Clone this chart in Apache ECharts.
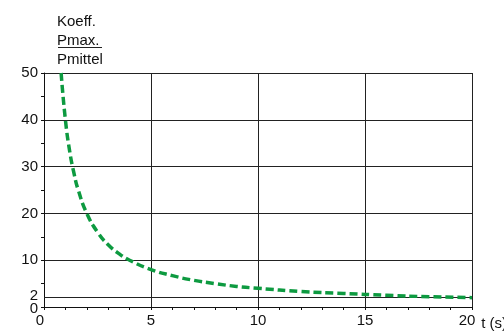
<!DOCTYPE html>
<html>
<head>
<meta charset="utf-8">
<script src="https://cdn.jsdelivr.net/npm/echarts@6/dist/echarts.min.js"></script>
<style>html,body{margin:0;padding:0;background:#fff}#c{width:504px;height:332px}</style>
</head>
<body>
<div id="c"></div>
<script>
var tValues = [0.8, 1, 1.2, 1.4, 1.6, 2, 2.5, 3, 3.5, 4, 5, 6, 7, 8, 9, 10, 12, 14, 16, 18, 20];
var koeffValues = [50, 40, 33.3, 28.6, 25, 20, 16, 13.3, 11.4, 10, 8, 6.7, 5.7, 5, 4.4, 4, 3.3, 2.9, 2.5, 2.2, 2];
var yLabelValues = [0, 10, 20, 30, 40, 50];
var yExtraLabelValues = [2];
var titleLines = ['Koeff.', 'Pmax.', 'Pmittel'];
var xName = 't (s)';

var font = 'Liberation Sans, Arial, sans-serif';
var chart = echarts.init(document.getElementById('c'), null, {renderer: 'canvas'});
var data = tValues.map(function (t, i) { return [t, koeffValues[i]]; });
chart.setOption({
  animation: false,
  backgroundColor: '#fff',
  title: {
    text: titleLines.join('\n'),
    left: 57, top: 12, padding: 0,
    textStyle: {fontFamily: font, fontSize: 15, fontWeight: 'normal', color: '#111', lineHeight: 19.2}
  },
  graphic: [{
    type: 'line', shape: {x1: 58, y1: 47.5, x2: 102, y2: 47.5},
    style: {stroke: '#222', lineWidth: 1}
  }],
  grid: {left: 44, right: 32, top: 73, bottom: 25, containLabel: false, outerBoundsMode: 'none'},
  xAxis: {
    type: 'value', min: 0, max: 20, interval: 5,
    name: xName, nameLocation: 'end', nameGap: -1,
    nameTextStyle: {fontFamily: font, fontSize: 15, color: '#111', verticalAlign: 'top', align: 'left', padding: [9, 0, 0, 0]},
    axisLine: {show: true, lineStyle: {color: '#111', width: 1}},
    axisTick: {show: true, length: 3, lineStyle: {color: '#111'}},
    minorTick: {show: true, splitNumber: 5, length: 3, lineStyle: {color: '#111'}},
    axisLabel: {
      fontFamily: font, fontSize: 15, color: '#111', margin: 6,
      showMinLabel: true, showMaxLabel: true, hideOverlap: false,
      formatter: function (v) {
        if (v === 0) return '{f|0}';
        if (v === 20) return '{l|20}';
        return String(v);
      },
      rich: {
        f: {fontFamily: font, fontSize: 15, color: '#111', padding: [0, 8, 0, 0]},
        l: {fontFamily: font, fontSize: 15, color: '#111', padding: [0, 10, 0, 0]}
      }
    },
    splitLine: {show: true, lineStyle: {color: '#222', width: 1}}
  },
  yAxis: [{
    type: 'value', min: 0, max: 50, interval: 10,
    axisLine: {show: true, lineStyle: {color: '#111', width: 1}},
    axisTick: {show: true, length: 3, lineStyle: {color: '#111'}},
    minorTick: {show: true, splitNumber: 2, length: 3, lineStyle: {color: '#111'}},
    axisLabel: {
      fontFamily: font, fontSize: 15, color: '#111', margin: 6,
      showMinLabel: true, showMaxLabel: true, hideOverlap: false,
      customValues: yLabelValues,
      formatter: function (v) { return v === 0 ? '{z|0}' : String(v); },
      rich: {z: {fontFamily: font, fontSize: 15, color: '#111', padding: [3, 0, 0, 0]}}
    },
    splitLine: {show: true, lineStyle: {color: '#222', width: 1}}
  }, {
    type: 'value', min: 0, max: 50, interval: 10, position: 'left', offset: 0,
    axisLine: {show: false}, axisTick: {show: false}, splitLine: {show: false},
    axisLabel: {
      fontFamily: font, fontSize: 15, color: '#111', margin: 6,
      showMinLabel: true, showMaxLabel: true, hideOverlap: false,
      customValues: yExtraLabelValues,
      formatter: function (v) { return '{t|' + v + '}'; },
      rich: {t: {fontFamily: font, fontSize: 15, color: '#111', padding: [0, 0, 3, 0]}}
    }
  }],
  series: [{
    type: 'line',
    data: data,
    smooth: true,
    showSymbol: false,
    clip: true,
    lineStyle: {color: '#0d9a40', width: 3.5, type: [8, 4]},
    markLine: {
      silent: true, symbol: 'none', label: {show: false},
      lineStyle: {color: '#222', width: 1, type: 'solid'},
      data: [{yAxis: 2}]
    },
    z: 5
  }]
});
</script>
</body>
</html>
